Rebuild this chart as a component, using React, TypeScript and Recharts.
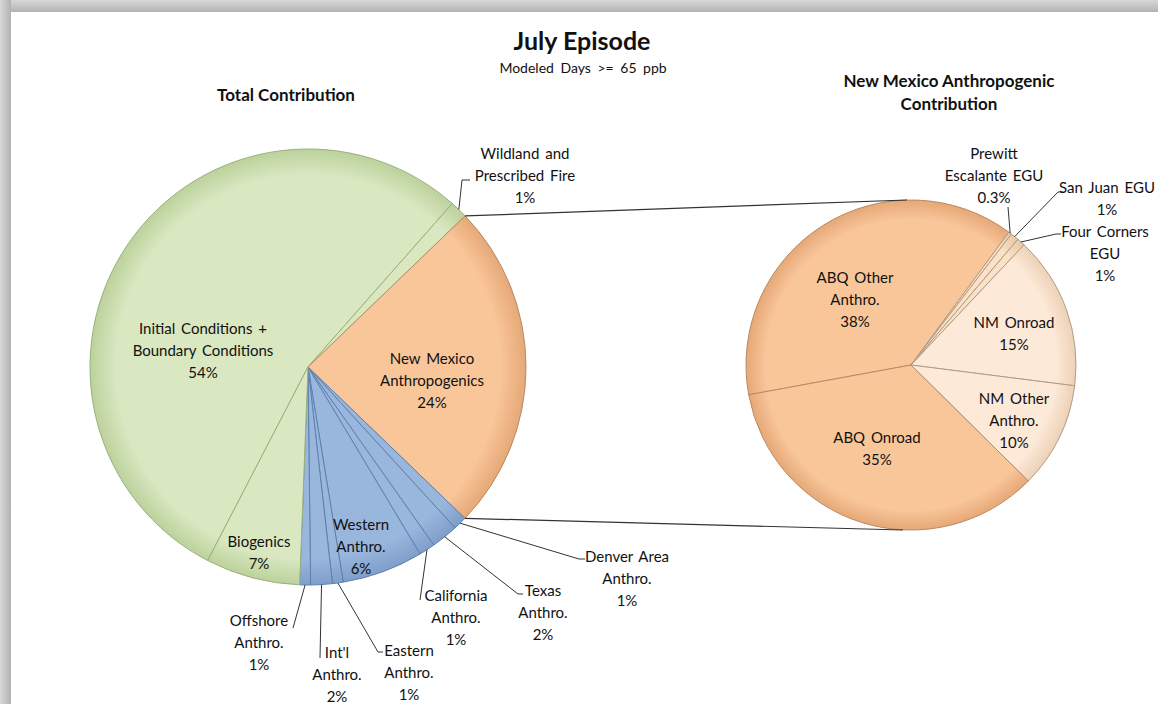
import { PieChart, Pie, Cell } from 'recharts'

// total contribution (left pie), clockwise from the IC/BC slice
const totalNames = [
  'Initial Conditions +\nBoundary Conditions',
  'Wildland and\nPrescribed Fire',
  'New Mexico\nAnthropogenics',
  'Denver Area\nAnthro.',
  'Texas\nAnthro.',
  'California\nAnthro.',
  'Western\nAnthro.',
  'Eastern\nAnthro.',
  "Int'l\nAnthro.",
  'Offshore\nAnthro.',
  'Biogenics',
]
const totalValues = [53.9, 1.3, 24.4, 1.0, 2.0, 1.2, 6.0, 0.8, 1.6, 0.8, 7.0]
const totalColors = ['green', 'green', 'orange', 'blue', 'blue', 'blue', 'blue', 'blue', 'blue', 'blue', 'green']

// New Mexico anthropogenic breakdown (right pie)
const nmNames = [
  'ABQ Other\nAnthro.',
  'Prewitt\nEscalante EGU',
  'San Juan EGU',
  'Four Corners\nEGU',
  'NM Onroad',
  'NM Other\nAnthro.',
  'ABQ Onroad',
]
const nmValues = [38.0, 0.3, 0.8, 0.8, 15.0, 10.4, 34.7]
const nmColors = ['orange', 'egu', 'egu', 'egu', 'peach', 'peach', 'orange']

const totalData = totalNames.map((name, i) => ({ name, value: totalValues[i] }))
const nmData = nmNames.map((name, i) => ({ name, value: nmValues[i] }))

const palette: Record<string, { fill: string; edge: string; stroke: string }> = {
  green: { fill: '#d9e8c1', edge: '#bcd19c', stroke: '#9bb07c' },
  orange: { fill: '#f9c69a', edge: '#e6a877', stroke: '#b88a63' },
  blue: { fill: '#99b7dd', edge: '#7f9ec9', stroke: '#5e80ae' },
  peach: { fill: '#fde9d7', edge: '#ecd1b7', stroke: '#b19b86' },
  egu: { fill: '#fbe1c6', edge: '#e8c7a5', stroke: '#b19b86' },
}

const LEFT = { cx: 308, cy: 367, r: 218 }
const RIGHT = { cx: 911, cy: 365, r: 165 }

// label placement, offsets from pie centre
type LabelSpec = { dx: number; dy: number; leader?: [number, number]; tick?: number }

const totalLabels: LabelSpec[] = [
  { dx: -105, dy: -17 },
  { dx: 217, dy: -192, leader: [154, -187], tick: 8 },
  { dx: 124, dy: 13 },
  { dx: 319, dy: 211, leader: [271, 192], tick: 6 },
  { dx: 235, dy: 245, leader: [210, 227], tick: 5 },
  { dx: 148, dy: 250, leader: [112, 233] },
  { dx: 53, dy: 179 },
  { dx: 101, dy: 305, leader: [70, 285], tick: 5 },
  { dx: 29, dy: 307, leader: [12, 291] },
  { dx: -49, dy: 275, leader: [-15, 261] },
  { dx: -49, dy: 185 },
]

const nmLabels: LabelSpec[] = [
  { dx: -56, dy: -66 },
  { dx: 83, dy: -190, leader: [97, -158] },
  { dx: 196, dy: -167, leader: [147, -173], tick: 5 },
  { dx: 194, dy: -112, leader: [145, -131], tick: 5 },
  { dx: 103, dy: -32 },
  { dx: 103, dy: 55 },
  { dx: -34, dy: 83 },
]

const RAD = Math.PI / 180
const polar = (cx: number, cy: number, r: number, a: number) => [cx + r * Math.cos(-a * RAD), cy + r * Math.sin(-a * RAD)]

const fmtPct = (p: number) => {
  const v = p * 100
  return v < 0.5 ? `${v.toFixed(1)}%` : `${Math.round(v)}%`
}

function makeLabel(specs: LabelSpec[], connectIndex?: number) {
  return (props: any) => {
    const { cx, cy, outerRadius, midAngle, index, percent, startAngle, endAngle } = props
    const name = props.payload?.name ?? props.name
    const spec = specs[index]
    const lines = [...String(name).split('\n'), fmtPct(percent)]
    const lh = 22
    const tx = cx + spec.dx
    const ty0 = cy + spec.dy - ((lines.length - 1) * lh) / 2
    let leader = null
    if (spec.leader) {
      const [sx, sy] = polar(cx, cy, outerRadius, midAngle)
      const ex = cx + spec.leader[0]
      const ey = cy + spec.leader[1]
      const t = spec.tick ?? 0
      leader = <polyline points={`${sx},${sy} ${ex},${ey} ${ex + t},${ey}`} fill="none" stroke="#333" strokeWidth={1} />
    }
    let connectors = null
    if (connectIndex === index) {
      const [ax, ay] = polar(cx, cy, outerRadius, startAngle)
      const [bx, by] = polar(cx, cy, outerRadius, endAngle)
      connectors = (
        <g stroke="#333" strokeWidth={1.2}>
          <line x1={ax} y1={ay} x2={RIGHT.cx - 4} y2={RIGHT.cy - RIGHT.r} />
          <line x1={bx} y1={by} x2={RIGHT.cx - 8} y2={RIGHT.cy + RIGHT.r} />
        </g>
      )
    }
    return (
      <g>
        {connectors}
        {leader}
        <text textAnchor="middle" fontFamily="Lato, sans-serif" fontSize={15} fill="#111" wordSpacing={2}>
          {lines.map((l, i) => (
            <tspan key={i} x={tx} y={ty0 + i * lh} dominantBaseline="central">
              {l}
            </tspan>
          ))}
        </text>
      </g>
    )
  }
}

function Gradients() {
  const pies = [
    ['left', LEFT],
    ['right', RIGHT],
  ] as const
  return (
    <svg width={0} height={0} style={{ position: 'absolute' }}>
      <defs>
        {pies.map(([id, p]) =>
          Object.entries(palette).map(([k, c]) => (
            <radialGradient key={`${id}-${k}`} id={`${id}-${k}`} gradientUnits="userSpaceOnUse" cx={p.cx} cy={p.cy} r={p.r}>
              <stop offset="0" stopColor={c.fill} />
              <stop offset="0.88" stopColor={c.fill} />
              <stop offset="1" stopColor={c.edge} />
            </radialGradient>
          ))
        )}
      </defs>
    </svg>
  )
}

export default function App() {
  return (
    <div style={{ position: 'absolute', left: 0, top: 0, width: 1158, height: 704, background: '#fff', overflow: 'hidden' }}>
      <Gradients />
      <div style={{ position: 'absolute', left: 0, top: 0, width: 1158, height: 12, background: 'linear-gradient(to bottom, #d8d8d8, #b2b2b2)' }} />
      <div style={{ position: 'absolute', left: 0, top: 0, width: 11, height: 704, background: 'linear-gradient(to right, #d8d8d8, #b2b2b2)' }} />
      <PieChart width={1158} height={704} margin={{ top: 0, right: 0, bottom: 0, left: 0 }} style={{ position: 'absolute', left: 0, top: 0 }}>
        <Pie
          data={totalData}
          dataKey="value"
          nameKey="name"
          cx={LEFT.cx}
          cy={LEFT.cy}
          outerRadius={LEFT.r}
          startAngle={242.6}
          endAngle={-117.4}
          labelLine={false}
          label={makeLabel(totalLabels, 2)}
          isAnimationActive={false}
        >
          {totalData.map((d, i) => (
            <Cell key={d.name} fill={`url(#left-${totalColors[i]})`} stroke={palette[totalColors[i]].stroke} strokeWidth={1} />
          ))}
        </Pie>
        <Pie
          data={nmData}
          dataKey="value"
          nameKey="name"
          cx={RIGHT.cx}
          cy={RIGHT.cy}
          outerRadius={RIGHT.r}
          startAngle={190.4}
          endAngle={-169.6}
          labelLine={false}
          label={makeLabel(nmLabels)}
          isAnimationActive={false}
        >
          {nmData.map((d, i) => (
            <Cell key={d.name} fill={`url(#right-${nmColors[i]})`} stroke={palette[nmColors[i]].stroke} strokeWidth={1} />
          ))}
        </Pie>
      </PieChart>
      <svg width={1158} height={704} style={{ position: 'absolute', left: 0, top: 0, pointerEvents: 'none' }} fontFamily="Lato, sans-serif" fill="#111">
        <text x={582} y={40} textAnchor="middle" dominantBaseline="central" fontSize={25} fontWeight={700}>
          July Episode
        </text>
        <text x={583} y={67} textAnchor="middle" dominantBaseline="central" fontSize={14} wordSpacing={3}>
          Modeled Days &gt;= 65 ppb
        </text>
        <text x={286} y={94} textAnchor="middle" dominantBaseline="central" fontSize={17} fontWeight={700}>
          Total Contribution
        </text>
        <text x={949} y={80} textAnchor="middle" dominantBaseline="central" fontSize={17} fontWeight={700}>
          New Mexico Anthropogenic
        </text>
        <text x={949} y={103} textAnchor="middle" dominantBaseline="central" fontSize={17} fontWeight={700}>
          Contribution
        </text>
      </svg>
    </div>
  )
}
